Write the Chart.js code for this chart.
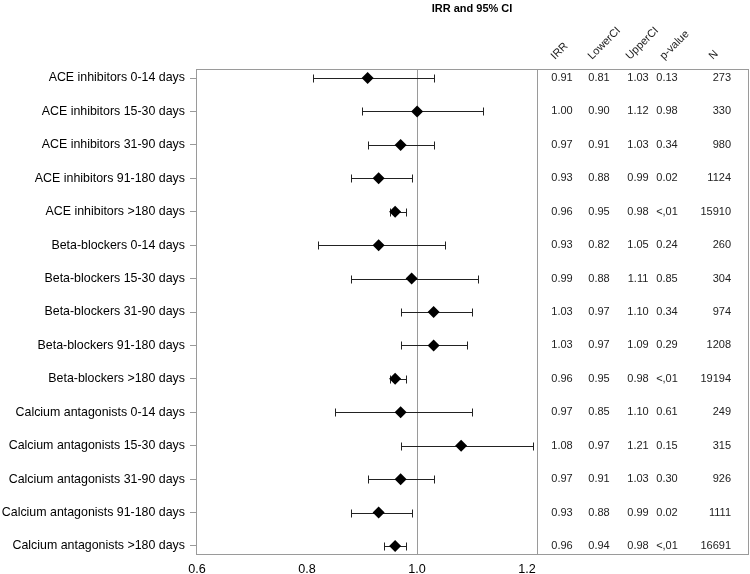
<!DOCTYPE html>
<html><head><meta charset="utf-8">
<script src="https://cdn.jsdelivr.net/npm/chart.js@4"></script>
<style>html,body{margin:0;padding:0;background:#fff}canvas{display:block}</style>
</head><body>
<canvas id="c" width="750" height="574"></canvas>
<script>
const categories = [
  'ACE inhibitors 0-14 days','ACE inhibitors 15-30 days','ACE inhibitors 31-90 days','ACE inhibitors 91-180 days','ACE inhibitors >180 days',
  'Beta-blockers 0-14 days','Beta-blockers 15-30 days','Beta-blockers 31-90 days','Beta-blockers 91-180 days','Beta-blockers >180 days',
  'Calcium antagonists 0-14 days','Calcium antagonists 15-30 days','Calcium antagonists 31-90 days','Calcium antagonists 91-180 days','Calcium antagonists >180 days'
];
const irr   = [0.91,1.00,0.97,0.93,0.96,0.93,0.99,1.03,1.03,0.96,0.97,1.08,0.97,0.93,0.96];
const lower = [0.81,0.90,0.91,0.88,0.95,0.82,0.88,0.97,0.97,0.95,0.85,0.97,0.91,0.88,0.94];
const upper = [1.03,1.12,1.03,0.99,0.98,1.05,1.11,1.10,1.09,0.98,1.10,1.21,1.03,0.99,0.98];
const pValues = ['0.13','0.98','0.34','0.02','<,01','0.24','0.85','0.34','0.29','<,01','0.61','0.15','0.30','0.02','<,01'];
const nValues = [273,330,980,1124,15910,260,304,974,1208,19194,249,315,926,1111,16691];
const xTicks = [0.6,0.8,1.0,1.2];
const refValue = 1.0;
const tableHeaders = ['IRR','LowerCI','UpperCI','p-value','N'];
const titleText = 'IRR and 95% CI';

const FONT = '"Liberation Sans", Arial, Helvetica, sans-serif';
const BOX_RIGHT = 748;
const GRAY = '#9a9a9a';

const forestPlugin = {
  id: 'forest',
  beforeDatasetsDraw(chart) {
    const {ctx, chartArea: a, scales: {x, y}} = chart;
    ctx.save();
    ctx.lineWidth = 1;
    ctx.strokeStyle = GRAY;
    const rx = Math.round(x.getPixelForValue(refValue)) + 0.5;
    ctx.beginPath(); ctx.moveTo(rx, a.top); ctx.lineTo(rx, a.bottom); ctx.stroke();
    ctx.strokeStyle = '#222';
    for (let i = 0; i < irr.length; i++) {
      const yy = Math.round(y.getPixelForValue(i)) + 0.5;
      const x1 = Math.round(x.getPixelForValue(lower[i])) + 0.5;
      const x2 = Math.round(x.getPixelForValue(upper[i])) + 0.5;
      ctx.beginPath();
      ctx.moveTo(x1, yy); ctx.lineTo(x2, yy);
      ctx.moveTo(x1, yy - 4); ctx.lineTo(x1, yy + 4);
      ctx.moveTo(x2, yy - 4); ctx.lineTo(x2, yy + 4);
      ctx.stroke();
    }
    ctx.restore();
  },
  afterDraw(chart) {
    const {ctx, chartArea: a, scales: {y}} = chart;
    ctx.save();
    ctx.lineWidth = 1;
    ctx.strokeStyle = GRAY;
    const L = Math.round(a.left) + 0.5, T = Math.round(a.top) + 0.5;
    const R = BOX_RIGHT + 0.5, B = Math.round(a.bottom) + 0.5;
    ctx.strokeRect(L, T, R - L, B - T);
    const sx = Math.round(a.right) + 0.5;
    ctx.beginPath(); ctx.moveTo(sx, a.top); ctx.lineTo(sx, a.bottom); ctx.stroke();

    // title
    ctx.fillStyle = '#000';
    ctx.font = 'bold 11px ' + FONT;
    ctx.textAlign = 'center'; ctx.textBaseline = 'middle';
    ctx.fillText(titleText, (a.left + BOX_RIGHT) / 2, 9);

    // table
    ctx.font = '11px ' + FONT;
    ctx.fillStyle = '#222';
    const colC = [562, 599, 638, 667];
    const nRight = 731;
    for (let i = 0; i < irr.length; i++) {
      const yy = y.getPixelForValue(i);
      ctx.textAlign = 'center';
      ctx.fillText(irr[i].toFixed(2), colC[0], yy);
      ctx.fillText(lower[i].toFixed(2), colC[1], yy);
      ctx.fillText(upper[i].toFixed(2), colC[2], yy);
      ctx.fillText(pValues[i], colC[3], yy);
      ctx.textAlign = 'right';
      ctx.fillText(String(nValues[i]), nRight, yy);
    }
    // headers rotated
    const hx = [555, 592, 630, 664, 713];
    ctx.textAlign = 'left'; ctx.textBaseline = 'alphabetic';
    ctx.font = '11px ' + FONT;
    ctx.fillStyle = '#222';
    for (let j = 0; j < tableHeaders.length; j++) {
      ctx.save();
      ctx.translate(hx[j], 60);
      ctx.rotate(-Math.PI / 4);
      ctx.fillText(tableHeaders[j], 0, 0);
      ctx.restore();
    }
    ctx.restore();
  }
};

new Chart(document.getElementById('c'), {
  type: 'scatter',
  data: {
    datasets: [{
      data: irr.map((v, i) => ({x: v, y: i})),
      pointStyle: 'rectRot',
      pointRadius: 6,
      backgroundColor: '#000',
      borderColor: '#000',
      borderWidth: 0
    }]
  },
  options: {
    responsive: false,
    animation: false,
    events: [],
    layout: {padding: {top: 69, right: 213, left: 0, bottom: 0}},
    plugins: {legend: {display: false}, tooltip: {enabled: false}, title: {display: false}},
    scales: {
      x: {
        type: 'linear', min: 0.598, max: 1.218,
        afterBuildTicks: s => { s.ticks = xTicks.map(v => ({value: v})); },
        afterFit: s => { s.height = 20; },
        grid: {display: false, drawTicks: false, tickLength: 0},
        border: {display: false},
        ticks: {padding: 8, color: '#000', font: {family: FONT, size: 12.6}, callback: v => Number(v).toFixed(1), maxRotation: 0, autoSkip: false}
      },
      y: {
        type: 'linear', reverse: true, min: -0.27, max: 14.24,
        afterBuildTicks: s => { s.ticks = categories.map((_, i) => ({value: i})); },
        afterFit: s => { s.width = 196; },
        grid: {drawOnChartArea: false, drawTicks: true, tickLength: 6, color: GRAY},
        border: {display: false},
        ticks: {padding: 5, color: '#000', font: {family: FONT, size: 12.4}, autoSkip: false, callback: (v, i) => categories[i]}
      }
    }
  },
  plugins: [forestPlugin]
});
</script>
</body></html>
